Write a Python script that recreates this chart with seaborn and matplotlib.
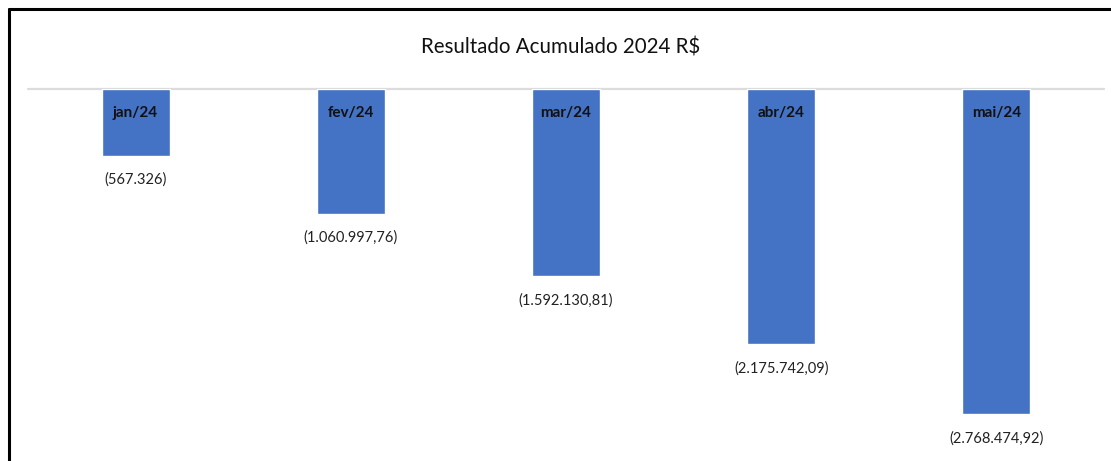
import pandas as pd
import seaborn as sns
import matplotlib.pyplot as plt
from matplotlib.lines import Line2D

# data
months = ['jan/24', 'fev/24', 'mar/24', 'abr/24', 'mai/24']
values = [-567326, -1060997.76, -1592130.81, -2175742.09, -2768474.92]
value_labels = ['(567.326)', '(1.060.997,76)', '(1.592.130,81)', '(2.175.742,09)', '(2.768.474,92)']

df = pd.DataFrame({'Mes': months, 'Valor': values})

sns.set_style('white')
plt.rcParams['font.family'] = ['Lato', 'DejaVu Sans']

fig = plt.figure(figsize=(11.11, 4.61), dpi=100)
ax = fig.add_axes([28 / 1111, 0, 1076 / 1111, 372 / 461])

sns.barplot(data=df, x='Mes', y='Valor', color='#4472C4', saturation=1, width=0.316, ax=ax)

ax.set_xlim(-0.5, 4.5)
ax.set_ylim(-3.17e6, 0)
ax.axhline(0, color='#dcdcdc', lw=1.6, zorder=0, clip_on=False)

# category labels inside bars, values below
for i, (m, v, lab) in enumerate(zip(months, values, value_labels)):
    ax.text(i, -2.05e5, m, ha='center', va='center', fontsize=11, fontweight='bold', color='#111111')
    ax.annotate(lab, xy=(i, v), xytext=(0, -17.5), textcoords='offset points',
                ha='center', va='center', fontsize=10.5, color='#222222')

ax.set_xlabel('')
ax.set_ylabel('')
ax.set_xticks([])
ax.set_yticks([])
sns.despine(ax=ax, left=True, bottom=True)

fig.text(0.5045, 1 - 47 / 461, 'Resultado Acumulado 2024 R$', ha='center', va='center', fontsize=14.8, color='#111111')

# outer frame (left and top edges)
fig.add_artist(Line2D([8.5 / 1111, 8.5 / 1111], [0, 1 - 9.5 / 461], color='black', lw=2.2))
fig.add_artist(Line2D([8.5 / 1111, 1], [1 - 9.5 / 461, 1 - 9.5 / 461], color='black', lw=2.2))

plt.savefig('out.png', dpi=100)
